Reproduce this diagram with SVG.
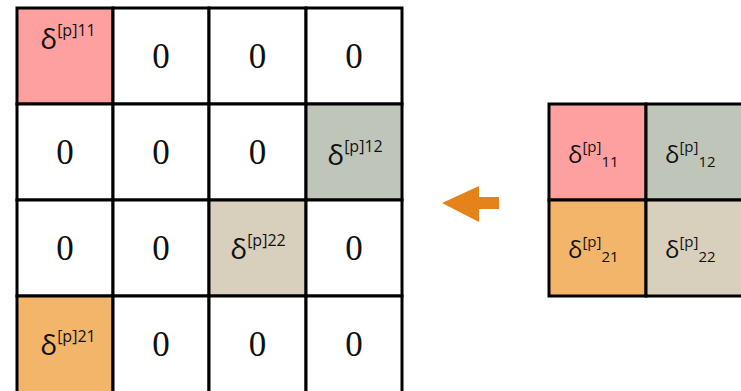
<svg xmlns="http://www.w3.org/2000/svg" width="741" height="391" viewBox="0 0 741 391">
  <style>
    .cell { stroke: #000; stroke-width: 3; }
    .w { fill: #fff; }
    .red { fill: #FFA0A0; }
    .grn { fill: #BFC6B9; }
    .tan { fill: #D9CFBD; }
    .org { fill: #F2B56A; }
    .zero { font-family: "Liberation Serif", serif; font-size: 35px; text-anchor: middle; fill: #111; }
    .d { font-family: "Open Sans", "Liberation Sans", sans-serif; fill: #111; }
    .dl { font-size: 28px; }
    .sl { font-size: 16px; }
    .ds { font-size: 24px; }
    .ss { font-size: 15px; }
  </style>

  <!-- Large 4x4 matrix -->
  <g id="matrix">
    <g id="m11"><rect class="cell red" x="17" y="8" width="96" height="96"/>
      <text class="d" x="68" y="49" text-anchor="middle"><tspan class="dl">δ</tspan><tspan class="sl" dy="-13">[p]11</tspan></text></g>
    <g id="m12"><rect class="cell w" x="113" y="8" width="96" height="96"/><text class="zero" x="161" y="68">0</text></g>
    <g id="m13"><rect class="cell w" x="209" y="8" width="97" height="96"/><text class="zero" x="257.5" y="68">0</text></g>
    <g id="m14"><rect class="cell w" x="306" y="8" width="96" height="96"/><text class="zero" x="354" y="68">0</text></g>

    <g id="m21"><rect class="cell w" x="17" y="104" width="96" height="96"/><text class="zero" x="65" y="164">0</text></g>
    <g id="m22"><rect class="cell w" x="113" y="104" width="96" height="96"/><text class="zero" x="161" y="164">0</text></g>
    <g id="m23"><rect class="cell w" x="209" y="104" width="97" height="96"/><text class="zero" x="257.5" y="164">0</text></g>
    <g id="m24"><rect class="cell grn" x="306" y="104" width="96" height="96"/>
      <text class="d" x="355" y="165" text-anchor="middle"><tspan class="dl">δ</tspan><tspan class="sl" dy="-13">[p]12</tspan></text></g>

    <g id="m31"><rect class="cell w" x="17" y="200" width="96" height="96"/><text class="zero" x="65" y="260">0</text></g>
    <g id="m32"><rect class="cell w" x="113" y="200" width="96" height="96"/><text class="zero" x="161" y="260">0</text></g>
    <g id="m33"><rect class="cell tan" x="209" y="200" width="97" height="96"/>
      <text class="d" x="258" y="259" text-anchor="middle"><tspan class="dl">δ</tspan><tspan class="sl" dy="-13">[p]22</tspan></text></g>
    <g id="m34"><rect class="cell w" x="306" y="200" width="96" height="96"/><text class="zero" x="354" y="260">0</text></g>

    <g id="m41"><rect class="cell org" x="17" y="296" width="96" height="97"/>
      <text class="d" x="68" y="355" text-anchor="middle"><tspan class="dl">δ</tspan><tspan class="sl" dy="-13">[p]21</tspan></text></g>
    <g id="m42"><rect class="cell w" x="113" y="296" width="96" height="97"/><text class="zero" x="161" y="356">0</text></g>
    <g id="m43"><rect class="cell w" x="209" y="296" width="97" height="97"/><text class="zero" x="257.5" y="356">0</text></g>
    <g id="m44"><rect class="cell w" x="306" y="296" width="96" height="97"/><text class="zero" x="354" y="356">0</text></g>
  </g>

  <!-- Small 2x2 matrix -->
  <g id="small">
    <g id="s11"><rect class="cell red" x="549" y="104" width="97" height="96"/>
      <text class="d" x="568" y="163"><tspan class="ds">δ</tspan><tspan class="ss" dy="-11">[p]</tspan><tspan class="ss" dy="15">11</tspan></text></g>
    <g id="s12"><rect class="cell grn" x="646" y="104" width="97" height="96"/>
      <text class="d" x="665" y="163"><tspan class="ds">δ</tspan><tspan class="ss" dy="-11">[p]</tspan><tspan class="ss" dy="15">12</tspan></text></g>
    <g id="s21"><rect class="cell org" x="549" y="200" width="97" height="96"/>
      <text class="d" x="568" y="258"><tspan class="ds">δ</tspan><tspan class="ss" dy="-11">[p]</tspan><tspan class="ss" dy="15">21</tspan></text></g>
    <g id="s22"><rect class="cell tan" x="646" y="200" width="97" height="96"/>
      <text class="d" x="665" y="258"><tspan class="ds">δ</tspan><tspan class="ss" dy="-11">[p]</tspan><tspan class="ss" dy="15">22</tspan></text></g>
  </g>

  <!-- Block arrow pointing left -->
  <g id="connectors">
    <polygon points="442,203 479,186 479,197 499,197 499,209 479,209 479,222" fill="#E6821A"/>
  </g>
</svg>
